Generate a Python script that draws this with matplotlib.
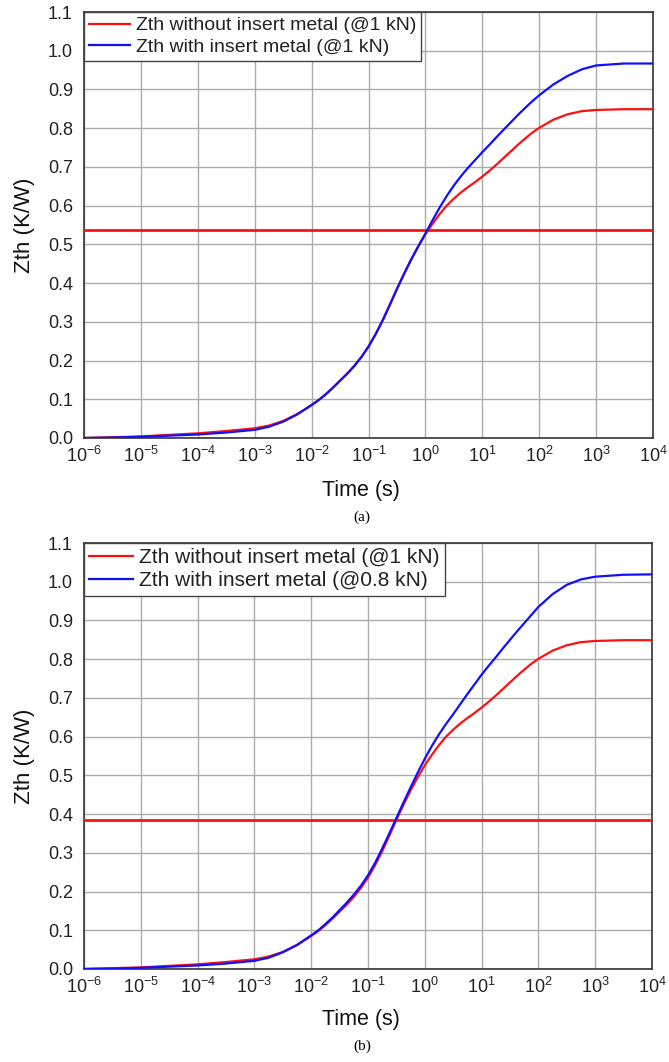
import numpy as np
import matplotlib
matplotlib.use("Agg")
import matplotlib.pyplot as plt

plt.rcParams['font.family'] = ['Liberation Sans', 'DejaVu Sans']
plt.rcParams['mathtext.fontset'] = 'custom'
plt.rcParams['mathtext.rm'] = 'Liberation Sans'
plt.rcParams['mathtext.it'] = 'Liberation Sans:italic'

# log10 of time (s) at which the curves are sampled
log_t = [-6.0, -5.5, -5.0, -4.5, -4.0, -3.5, -3.0, -2.75, -2.5, -2.25, -2.0,
         -1.875, -1.75, -1.625, -1.5, -1.375, -1.25, -1.125, -1.0, -0.875,
         -0.75, -0.625, -0.5, -0.375, -0.25, -0.125, 0.0, 0.125, 0.25, 0.375,
         0.5, 0.625, 0.75, 0.875, 1.0, 1.125, 1.25, 1.375, 1.5, 1.625, 1.75,
         1.875, 2.0, 2.25, 2.5, 2.75, 3.0, 3.5, 4.0]

# Zth without insert metal (@1 kN) - same measurement in both panels
zth_without = [0.000, 0.002, 0.004, 0.008, 0.012, 0.018, 0.025, 0.032, 0.044,
               0.062, 0.085, 0.098, 0.113, 0.130, 0.148, 0.166, 0.186, 0.209,
               0.236, 0.268, 0.304, 0.344, 0.385, 0.424, 0.461, 0.495, 0.526,
               0.553, 0.578, 0.600, 0.618, 0.634, 0.648, 0.661, 0.675, 0.690,
               0.706, 0.723, 0.740, 0.757, 0.773, 0.788, 0.801, 0.822, 0.836,
               0.844, 0.847, 0.849, 0.849]

# Zth with insert metal (@1 kN)
zth_with_1kn = [0.000, 0.001, 0.003, 0.006, 0.009, 0.014, 0.021, 0.029, 0.042,
                0.061, 0.085, 0.098, 0.113, 0.130, 0.148, 0.166, 0.186, 0.209,
                0.236, 0.268, 0.304, 0.344, 0.385, 0.424, 0.461, 0.495, 0.528,
                0.562, 0.595, 0.625, 0.652, 0.676, 0.698, 0.718, 0.738, 0.757,
                0.777, 0.796, 0.815, 0.834, 0.852, 0.869, 0.885, 0.913, 0.935,
                0.952, 0.962, 0.967, 0.967]

# Zth with insert metal (@0.8 kN)
zth_with_08kn = [0.000, 0.001, 0.003, 0.006, 0.009, 0.014, 0.021, 0.029, 0.043,
                 0.062, 0.087, 0.100, 0.116, 0.133, 0.152, 0.171, 0.192, 0.215,
                 0.242, 0.274, 0.311, 0.350, 0.390, 0.430, 0.469, 0.507, 0.543,
                 0.576, 0.606, 0.633, 0.658, 0.684, 0.710, 0.735, 0.760, 0.783,
                 0.805, 0.828, 0.850, 0.872, 0.893, 0.914, 0.935, 0.968, 0.992,
                 1.006, 1.013, 1.018, 1.019]

# steady-state reference levels
ref_a = 0.537
ref_b = 0.385

panels = [
    dict(rect=[0.1256, 0.5876, 0.8505, 0.4011], blue=zth_with_1kn, ref=ref_a,
         blue_label='Zth with insert metal (@1 kN)', caption='(a)', cap_y=0.513,
         xl_y=0.538, leg_fs=14),
    dict(rect=[0.1256, 0.0876, 0.8490, 0.4011], blue=zth_with_08kn, ref=ref_b,
         blue_label='Zth with insert metal (@0.8 kN)', caption='(b)', cap_y=0.015,
         xl_y=0.040, leg_fs=15),
]

t = 10.0 ** np.array(log_t)
xticks = [10.0 ** k for k in range(-6, 5)]
yticks = np.round(np.arange(0.0, 1.11, 0.1), 1)

fig = plt.figure(figsize=(6.69, 10.62), dpi=100)
for p in panels:
    ax = fig.add_axes(p['rect'])
    ax.set_xscale('log')
    ax.set_xlim(1e-6, 1e4)
    ax.set_ylim(0.0, 1.1)
    ax.set_xticks(xticks)
    ax.xaxis.set_minor_locator(matplotlib.ticker.NullLocator())
    ax.set_yticks(yticks)
    ax.set_yticklabels([f'{v:.1f}' for v in yticks])
    ax.grid(True, color='#ababab', linewidth=1.0)
    ax.set_axisbelow(True)
    ax.tick_params(length=0, labelsize=13, pad=8, labelcolor='#222222')
    ax.tick_params(axis='x', pad=6)
    for s in ax.spines.values():
        s.set_linewidth(1.2)
        s.set_color('#333333')

    ax.plot(t, zth_without, color='#ff1010', lw=1.6,
            label='Zth without insert metal (@1 kN)', zorder=3)
    ax.plot(t, p['blue'], color='#1010ff', lw=1.6, label=p['blue_label'], zorder=4)
    ax.axhline(p['ref'], color='#ff1010', lw=2.0, zorder=3)

    ax.set_ylabel('Zth (K/W)', fontsize=16, labelpad=9, color='#111111')
    leg = ax.legend(loc='upper left', bbox_to_anchor=(0, 1), borderaxespad=0,
                    fontsize=p['leg_fs'], fancybox=False, framealpha=1,
                    edgecolor='#444444', handlelength=2.1, handletextpad=0.3,
                    labelspacing=0.2, borderpad=0.25)
    leg.get_frame().set_linewidth(1.0)
    for txt in leg.get_texts():
        txt.set_color('#222222')
    fig.text(0.54, p['xl_y'], 'Time (s)', ha='center', va='center',
             fontsize=15.5, color='#111111')
    fig.text(0.541, p['cap_y'], p['caption'], ha='center', va='center',
             fontsize=11, family='Liberation Serif')

fig.savefig('out.png', dpi=100)
